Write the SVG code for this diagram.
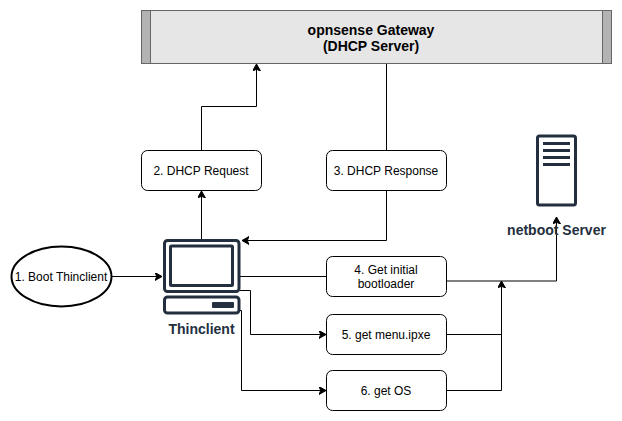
<svg xmlns="http://www.w3.org/2000/svg" width="622" height="421" viewBox="0 0 622 421">
<style>
text{font-family:"Liberation Sans",Arial,sans-serif;text-anchor:middle}
.t{font-size:12px;fill:#000}
.b{fill:#fff;stroke:#000;stroke-width:1}
.c{fill:none;stroke:#000;stroke-width:1}
.i{fill:none;stroke:#232F3E;stroke-width:3}
.f{fill:#232F3E}
.l{font-size:14px;font-weight:bold;fill:#232F3E}
.g{fill:#e6e6e6;stroke:#666;stroke-width:1}
.s{fill:#b3b3b3;stroke:#666;stroke-width:1}
</style>
<defs>
<marker id="a" markerUnits="userSpaceOnUse" markerWidth="10" markerHeight="10" refX="7" refY="4" orient="auto"><path d="M0,0L7,4L0,8L1.75,4Z" fill="#000" stroke="#000" stroke-width="1"/></marker>
</defs>
<g id="connectors">
<path class="c" marker-end="url(#a)" d="M201.500 150.500V106.500H256.500V64"/>
<path class="c" marker-end="url(#a)" d="M201.500 239V191"/>
<path class="c" d="M386.500 64V150"/>
<path class="c" marker-end="url(#a)" d="M386.500 191V240.500H242"/>
<path class="c" marker-end="url(#a)" d="M112 276.500H162"/>
<path class="c" d="M240 276.500H326"/>
<path class="c" marker-end="url(#a)" d="M240 290.500H250.500V334.500H326"/>
<path class="c" marker-end="url(#a)" d="M240 310.500H241.500V390.500H326"/>
<path class="c" marker-end="url(#a)" d="M446 281H556.500V217"/>
<path class="c" marker-end="url(#a)" d="M446 334.500H501.500V281"/>
<path class="c" d="M446 390.500H501.500V334"/>
</g>
<g id="gateway">
<rect class="g" x="141.500" y="10.500" width="470" height="53"/>
<rect class="s" x="141.500" y="10.500" width="9" height="53"/>
<rect class="s" x="602.500" y="10.500" width="9" height="53"/>
<text x="371" y="35" font-size="14" font-weight="bold">opnsense Gateway</text>
<text x="371" y="51" font-size="14" font-weight="bold">(DHCP Server)</text>
</g>
<g id="dhcp-request"><rect class="b" x="141.500" y="150.500" width="120" height="40" rx="6"/><text class="t" x="201" y="175">2. DHCP Request</text></g>
<g id="dhcp-response"><rect class="b" x="326.500" y="150.500" width="120" height="40" rx="6"/><text class="t" x="386" y="175">3. DHCP Response</text></g>
<g id="boot"><ellipse cx="61.500" cy="276.500" rx="50" ry="30" fill="#fff" stroke="#000" stroke-width="2"/><text class="t" x="61" y="281">1. Boot Thinclient</text></g>
<g id="thinclient">
<rect class="i" x="164.500" y="240.500" width="74.500" height="51" rx="3"/>
<rect class="i" x="170.500" y="246" width="62" height="39.500" rx="1"/>
<rect class="i" x="164.500" y="297" width="74.500" height="16" rx="3"/>
<rect class="f" x="212" y="302" width="22" height="6" rx="1"/>
<text class="l" x="201.500" y="334">Thinclient</text>
</g>
<g id="step4"><rect class="b" x="326.500" y="256.500" width="120" height="40" rx="6"/><text class="t" x="386" y="274">4. Get initial</text><text class="t" x="386" y="288">bootloader</text></g>
<g id="step5"><rect class="b" x="326.500" y="314.500" width="120" height="40" rx="6"/><text class="t" x="386" y="339">5. get menu.ipxe</text></g>
<g id="step6"><rect class="b" x="326.500" y="370.500" width="120" height="40" rx="6"/><text class="t" x="386" y="395">6. get OS</text></g>
<g id="netboot">
<rect class="i" x="537.500" y="136" width="38" height="69" rx="2"/>
<path d="M543 143.500H570M543 150.500H570M543 157.500H570M543 164.500H570" fill="none" stroke="#232F3E" stroke-width="3"/>
<text class="l" x="556.500" y="235">netboot Server</text>
</g>
</svg>
